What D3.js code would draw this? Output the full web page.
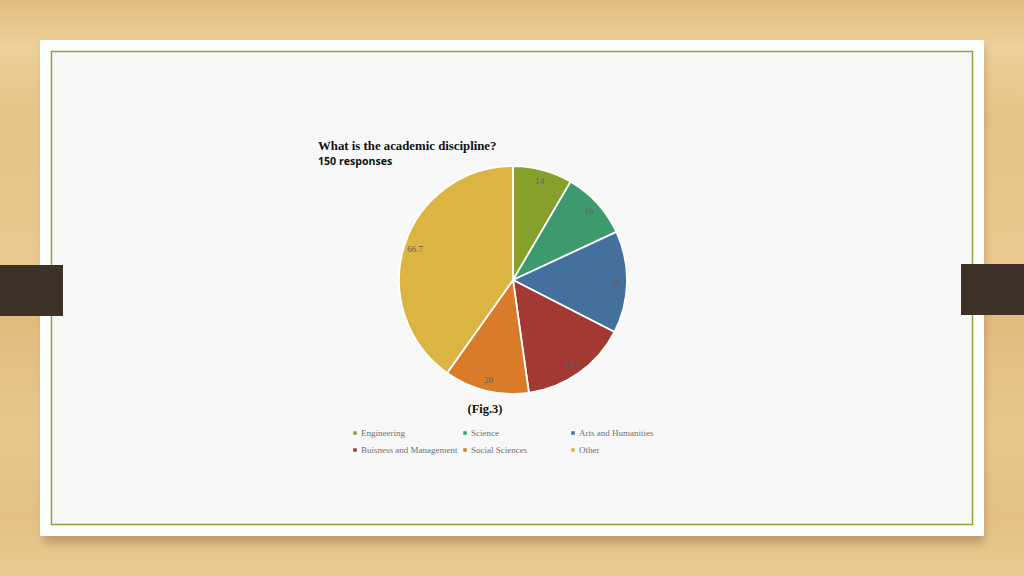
<!DOCTYPE html>
<html>
<head>
<meta charset="utf-8">
<script src="https://cdn.jsdelivr.net/npm/d3@7"></script>
<style>
  html,body{margin:0;padding:0;overflow:hidden;}
  #chart{width:1024px;height:576px;}
</style>
</head>
<body>
<div id="chart"></div>
<script>
const width=1024;
const height=576;

// data
const categories=["Engineering","Science","Arts and Humanities","Buisness and Management","Social Sciences","Other"];
const values=[14,16,24,25.3,20,66.7];
const labels=["14","16","24","25.3","20","66.7"];
const colors=["#86a02c","#3c9a6c","#44709e","#a23a33","#d97b29","#dcb441"];

const svg=d3.select("#chart")
  .append("svg")
  .attr("width",width)
  .attr("height",height);

const defs=svg.append("defs");

// wooden background
const wood=defs.append("linearGradient").attr("id","wood").attr("x1",0).attr("y1",0).attr("x2",0).attr("y2",1);
[[0,"#e3bd7e"],[0.08,"#ecd09a"],[0.2,"#e6c486"],[0.45,"#e9c98e"],[0.55,"#e2bb7d"],[0.75,"#e8c88c"],[0.9,"#e4c083"],[1,"#e9cb90"]]
  .forEach(s=>wood.append("stop").attr("offset",s[0]).attr("stop-color",s[1]));
svg.append("rect").attr("width",width).attr("height",height).attr("fill","url(#wood)");

const blur=defs.append("filter").attr("id","shadow").attr("x","-5%").attr("y","-5%").attr("width","110%").attr("height","115%");
blur.append("feGaussianBlur").attr("stdDeviation",4);

// card + shadow
svg.append("rect").attr("x",44).attr("y",46).attr("width",940).attr("height",497)
  .attr("fill","#7a6040").attr("opacity",0.4).attr("filter","url(#shadow)");
svg.append("rect").attr("x",40).attr("y",40).attr("width",944).attr("height",496).attr("fill","#fdfdfd");
svg.append("rect").attr("x",51.5).attr("y",51.5).attr("width",921).attr("height",473)
  .attr("fill","#f8f8f8").attr("stroke","#8aa63a").attr("stroke-width",1.5);

// side tabs
svg.append("rect").attr("x",0).attr("y",265).attr("width",63).attr("height",51).attr("fill","#3d3128");
svg.append("rect").attr("x",961).attr("y",264).attr("width",63).attr("height",51).attr("fill","#3d3128");

// titles
svg.append("text").attr("x",318).attr("y",150)
  .attr("font-family","'Liberation Serif','Times New Roman',serif").attr("font-weight","bold").attr("font-size",12.8)
  .attr("fill","#111").text("What is the academic discipline?");
svg.append("text").attr("x",318).attr("y",165)
  .attr("font-family","'Open Sans','Liberation Sans',sans-serif").attr("font-weight","bold").attr("font-size",10.6)
  .attr("fill","#111").text("150 responses");

// pie
const cx=513, cy=280, r=114;
const pie=d3.pie().sort(null).value(d=>d);
const arc=d3.arc().innerRadius(0).outerRadius(r);
const labelArc=d3.arc().innerRadius(r*0.9).outerRadius(r*0.9);

const g=svg.append("g").attr("transform",`translate(${cx},${cy})`);
const arcs=pie(values);
g.selectAll("path")
  .data(arcs)
  .enter()
  .append("path")
  .attr("d",arc)
  .attr("fill",(d,i)=>colors[i])
  .attr("stroke","#ffffff")
  .attr("stroke-width",1.8);

g.selectAll("text")
  .data(arcs)
  .enter()
  .append("text")
  .attr("transform",d=>`translate(${labelArc.centroid(d)})`)
  .attr("text-anchor","middle")
  .attr("dy","0.35em")
  .attr("font-family","'Liberation Serif',serif")
  .attr("font-size",9)
  .attr("fill","#5f5f5f")
  .text((d,i)=>labels[i]);

// caption
svg.append("text").attr("x",485).attr("y",413).attr("text-anchor","middle")
  .attr("font-family","'Liberation Serif','Times New Roman',serif").attr("font-weight","bold").attr("font-size",12.5)
  .attr("fill","#111").text("(Fig.3)");

// legend
const legX=[355,465,573];
const legY=[433,450];
const leg=svg.append("g");
categories.forEach((c,i)=>{
  const x=legX[i%3], y=legY[Math.floor(i/3)];
  leg.append("rect").attr("x",x-1.75).attr("y",y-1.75).attr("width",3.5).attr("height",3.5).attr("fill",colors[i]);
  leg.append("text").attr("x",x+6).attr("y",y).attr("dy","0.33em")
    .attr("font-family","'Liberation Serif',serif").attr("font-size",9)
    .attr("fill","#707070").text(c);
});
</script>
</body>
</html>
